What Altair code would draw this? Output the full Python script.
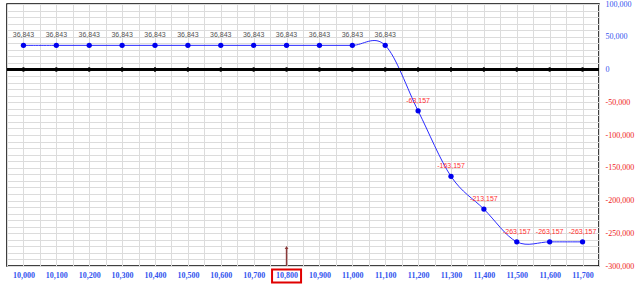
import altair as alt
import pandas as pd

strikes = [10000, 10100, 10200, 10300, 10400, 10500, 10600, 10700, 10800,
           10900, 11000, 11100, 11200, 11300, 11400, 11500, 11600, 11700]
pnl = [36843, 36843, 36843, 36843, 36843, 36843, 36843, 36843, 36843,
       36843, 36843, 36843, -63157, -163157, -213157, -263157, -263157, -263157]
current_price = 10800

df = pd.DataFrame({"strike": strikes, "pnl": pnl})

x_grid = list(range(9950, 11751, 50))
y_grid = list(range(-300000, 100001, 10000))

xs = alt.Scale(domain=[9950, 11750], nice=False, zero=False)
ys = alt.Scale(domain=[-300000, 100000], nice=False, zero=False)

x_axis = alt.Axis(values=x_grid, title=None, ticks=False, domain=False,
                  grid=True, gridColor="#dcdcdc", gridWidth=1, labelOverlap=False,
                  labelExpr="datum.value % 100 == 0 ? format(datum.value, ',') : ''",
                  labelFont="Liberation Serif", labelFontSize=8, labelFontWeight="bold",
                  labelColor="#3355ee", labelPadding=5, labelFlush=False)
y_axis = alt.Axis(values=y_grid, orient="right", title=None, ticks=False, domain=False,
                  grid=True, gridColor="#dcdcdc", gridWidth=1, labelOverlap=False,
                  labelExpr="datum.value % 50000 == 0 ? replace(format(datum.value, ','), '\u2212', '-') : ''",
                  labelFont="Liberation Serif", labelFontSize=8,
                  labelColor={"condition": {"test": "datum.value < 0", "value": "#ee2222"},
                              "value": "#3355ee"},
                  labelPadding=6, labelFlush=False, labelAlign="left")

base = alt.Chart(df).transform_calculate(
    lbl="replace(format(datum.pnl, ','), '\u2212', '-')"
)

X = alt.X("strike:Q", scale=xs, axis=x_axis)
Y = alt.Y("pnl:Q", scale=ys, axis=y_axis)

line = base.mark_line(color="#2a2aff", strokeWidth=1, interpolate="cardinal").encode(x=X, y=Y)

zero = base.mark_rule(color="#000000", strokeWidth=2).encode(
    y=alt.Y("z:Q", scale=ys, axis=y_axis)
).transform_calculate(z="0")

ticks = base.mark_tick(orient="vertical", color="#000000", size=5, thickness=2).encode(
    x=X, y=alt.Y("z:Q", scale=ys, axis=y_axis)
).transform_calculate(z="0")

points = base.mark_circle(color="#0000ee", size=28, opacity=1).encode(x=X, y=Y)

labels = base.mark_text(font="Liberation Sans", fontSize=7, dy=-10).encode(
    x=X, y=Y,
    text="lbl:N",
    color=alt.condition("datum.pnl < 0", alt.value("#ff3030"), alt.value("#555555")),
)

cur = pd.DataFrame({"price": [current_price]})
XP = alt.X("price:Q", scale=xs, axis=x_axis)
arrow_stem = alt.Chart(cur).mark_rule(color="#8b3a3a", strokeWidth=1.5).encode(
    x=XP, y=alt.value(262), y2=alt.value(244),
)
arrow_head = alt.Chart(cur).mark_point(shape="triangle-up", filled=True, size=14,
                                       color="#8b3a3a", opacity=1).encode(
    x=XP, y=alt.value(243.5),
)
box = alt.Chart(cur).mark_rect(fill="transparent", stroke="#e00000", strokeWidth=2,
                               xOffset=-14.5, x2Offset=14.5).encode(
    x=XP, x2="price:Q", y=alt.value(265.5), y2=alt.value(278.5),
)

chart = alt.layer(line, zero, ticks, points, labels, arrow_stem, arrow_head, box).properties(
    width=592, height=262,
    autosize=alt.AutoSizeParams(type="none"),
    padding={"left": 7, "top": 4, "right": 41, "bottom": 21},
    background="#ffffff",
).configure_view(stroke="#000000", strokeWidth=1.5)

chart.save("out.html", embed_options={"renderer": "svg", "actions": False})
